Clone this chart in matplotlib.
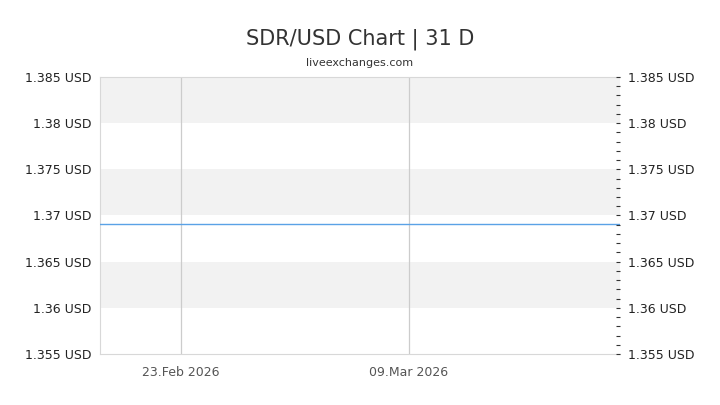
import numpy as np
import pandas as pd
import matplotlib
matplotlib.use('Agg')
import matplotlib.pyplot as plt
import matplotlib.dates as mdates
from matplotlib.ticker import MultipleLocator, FuncFormatter

# daily SDR/USD rate, flat over the period
dates = pd.date_range('2026-02-18', '2026-03-22', freq='D')
rates = [1.3691] * len(dates)

yticks = [1.355, 1.36, 1.365, 1.37, 1.375, 1.38, 1.385]
ylabels = ['1.355 USD', '1.36 USD', '1.365 USD', '1.37 USD', '1.375 USD', '1.38 USD', '1.385 USD']
xticks = [pd.Timestamp('2026-02-23'), pd.Timestamp('2026-03-09')]
xlabels = ['23.Feb 2026', '09.Mar 2026']

fig = plt.figure(figsize=(7.2, 4.05), dpi=100)
ax = fig.add_axes([100/720, 51/405, 520/720, 277/405])

ax.set_xlim(dates[0], dates[-1])
ax.set_ylim(1.355, 1.385)

# alternating bands
for i in range(len(yticks) - 1):
    if i % 2 == 1:
        ax.axhspan(yticks[i], yticks[i+1], color='#f2f2f2', lw=0, zorder=0)

for d in xticks:
    ax.axvline(d, color='#cccccc', lw=0.9, zorder=1)

ax.plot(dates, rates, color='#5aa2e6', lw=1.0, zorder=3)

ax.set_yticks(yticks)
ax.set_yticklabels(ylabels, fontsize=9, color='#222222')
ax.set_xticks(xticks)
ax.set_xticklabels(xlabels, fontsize=9, color='#555555')
ax.tick_params(axis='y', length=0, pad=6)
ax.tick_params(axis='x', length=0, pad=9)

for s in ['left', 'top', 'bottom']:
    ax.spines[s].set_color('#d8d8d8')
ax.spines['right'].set_visible(False)

ax2 = ax.twinx()
ax2.set_ylim(1.355, 1.385)
ax2.set_yticks(yticks)
ax2.set_yticklabels(ylabels, fontsize=9, color='#222222')
ax2.yaxis.set_minor_locator(MultipleLocator(0.001))
ax2.tick_params(axis='y', which='both', direction='in', length=3, width=0.8, color='#333333', pad=6)
for s in ax2.spines.values():
    s.set_visible(False)

fig.text(0.5, 0.904, 'SDR/USD Chart | 31 D', ha='center', va='center', fontsize=15, color='#333333')
fig.text(0.5, 0.845, 'liveexchanges.com', ha='center', va='center', fontsize=8, color='#333333')

fig.savefig('out.png', dpi=100)
